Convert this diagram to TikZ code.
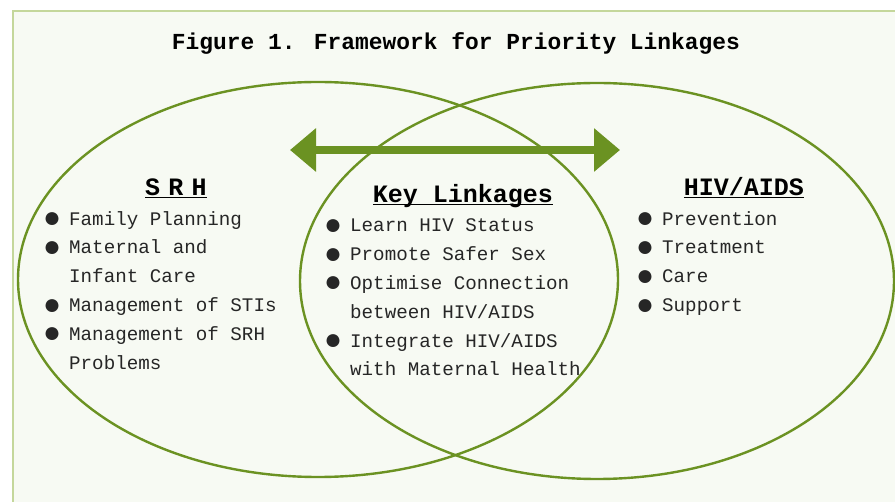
\documentclass[tikz,border=0pt]{standalone}
\usepackage{fontspec}
\setmainfont{Liberation Mono}
\newfontfamily\tightsp[WordSpace=0.55]{Liberation Mono}
\usetikzlibrary{arrows.meta}
\definecolor{linkgreen}{RGB}{107,146,34}
\definecolor{framegreen}{RGB}{196,215,155}
\definecolor{paper}{RGB}{247,250,243}
\newcommand\itm{\makebox[23pt][l]{\hspace*{-3pt}\raisebox{-2.5pt}{\fontsize{30}{28.8}\selectfont ●}}}
\newcommand\cnt{\hspace*{23pt}}
\newcommand\hd[1]{\underline{\smash{#1}}}
\tikzset{
  head/.style={font=\bfseries\fontsize{25}{30}\selectfont, anchor=base, inner sep=0pt},
  items/.style={font=\fontsize{19.2}{28.8}\selectfont, text=black!85, align=left,
    anchor=north west, inner sep=0pt},
  ring/.style={linkgreen, line width=2.4pt}
}

\begin{document}
\begin{tikzpicture}[x=1pt, y=-1pt]
\useasboundingbox (0,0) rectangle (895,502);
\fill[white] (0,0) rectangle (895,502);
\draw[framegreen, line width=2.5pt, fill=paper] (13,11) rectangle (900,510);

% the two areas
\draw[ring] (318,279.5) ellipse [x radius=300, y radius=197.5];
\draw[ring] (597,281) ellipse [x radius=297, y radius=198];

\node[font=\bfseries\fontsize{22.9}{27}\selectfont, anchor=base] (title) at (456,50)
  {Figure 1. Framework for Priority Linkages};

% two way arrow
\coordinate (la) at (290,150);
\coordinate (ra) at (620,150);
\draw[linkgreen, line width=8pt,
  {Triangle[length=26pt,width=42pt]}-{Triangle[length=26pt,width=42pt]}] (la) -- (ra);

% headings
\node[head] (srh) at (176,196) {\hd{\tightsp\bfseries S R H}};
\node[head] (key) at (463,203) {\hd{Key Linkages}};
\node[head] (hiv) at (744,196) {\hd{HIV/AIDS}};

% lists
\node[items] (srhlist) at (46,204.8) {\strut\itm Family Planning\\
  \itm Maternal and\\ \cnt Infant Care\\ \itm Management of STIs\\
  \itm Management of SRH\\ \cnt Problems};
\node[items] (keylist) at (327,211.5) {\strut\itm Learn HIV Status\\
  \itm Promote Safer Sex\\ \itm Optimise Connection\\ \cnt between HIV/AIDS\\
  \itm Integrate HIV/AIDS\\ \cnt with Maternal Health};
\node[items] (hivlist) at (639,204.8) {\strut\itm Prevention\\ \itm Treatment\\
  \itm Care\\ \itm Support};

\end{tikzpicture}
\end{document}
